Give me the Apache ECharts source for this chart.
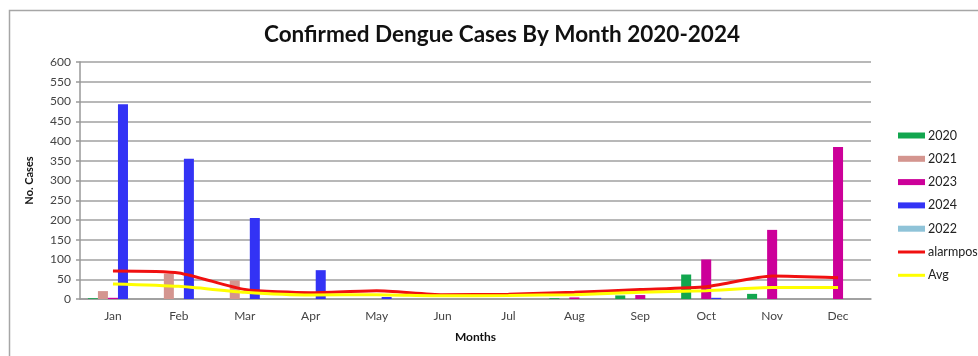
<!DOCTYPE html>
<html>
<head>
<meta charset="utf-8">
<script src="https://cdn.jsdelivr.net/npm/echarts@6/dist/echarts.min.js"></script>
<style>
  html, body { margin: 0; padding: 0; background: #fff; }
  #chart { width: 978px; height: 356px; }
</style>
</head>
<body>
<div id="chart"></div>
<script>
// Monthly confirmed dengue cases, per year, plus alarm threshold and average
const months = ['Jan', 'Feb', 'Mar', 'Apr', 'May', 'Jun', 'Jul', 'Aug', 'Sep', 'Oct', 'Nov', 'Dec'];
const cases2020 = [2, 0, 0, 0, 0, 0, 0, 2, 9, 62, 13, 0];
const cases2021 = [20, 64, 47, 0, 0, 0, 0, 0, 0, 0, 0, 0];
const cases2023 = [3, 0, 0, 0, 0, 0, 0, 4, 10, 100, 175, 385];
const cases2024 = [493, 355, 205, 73, 5, 0, 0, 0, 0, 3, 0, 0];
const cases2022 = [0, 0, 0, 0, 0, 0, 0, 0, 0, 0, 0, 0];
const alarmpos = [71, 66, 24, 16, 21, 11, 12, 17, 24, 31, 58, 54];
const avg = [38, 32, 17, 10, 11, 8, 9, 11, 17, 21, 29, 29];
const yTicks = { min: 0, max: 600, interval: 50 };

const FONT = 'Lato, "Open Sans", sans-serif';

const chart = echarts.init(document.getElementById('chart'), null, { renderer: 'canvas' });

function barSeries(name, data, color) {
  return {
    name, type: 'bar', data,
    barGap: '0%', barCategoryGap: '24%',
    itemStyle: { color },
    emphasis: { disabled: true }
  };
}
function lineSeries(name, data, color) {
  return {
    name, type: 'line', data, smooth: 0.2,
    symbol: 'none',
    lineStyle: { color, width: 3 },
    itemStyle: { color },
    emphasis: { disabled: true }
  };
}

chart.setOption({
  animation: false,
  backgroundColor: '#fff',
  textStyle: { fontFamily: FONT },
  title: {
    text: 'Confirmed Dengue Cases By Month 2020-2024',
    left: 497, top: 18, textAlign: 'center',
    textStyle: { fontFamily: FONT, fontWeight: 'bold', fontSize: 22.5, color: '#111' }
  },
  graphic: [{
    type: 'rect', left: 7, top: 8, silent: true,
    shape: { width: 1100, height: 500 },
    style: { fill: 'none', stroke: '#a6a6a6', lineWidth: 1.5 }
  }],
  legend: {
    orient: 'vertical', left: 893, top: 124,
    itemWidth: 27, itemHeight: 6, itemGap: 10.3,
    textStyle: { fontFamily: FONT, fontSize: 12.5, color: '#222', padding: [0, 0, 0, -2] },
    data: [
      { name: '2020', icon: 'rect' },
      { name: '2021', icon: 'rect' },
      { name: '2023', icon: 'rect' },
      { name: '2024', icon: 'rect' },
      { name: '2022', icon: 'rect' },
      { name: 'alarmpos', icon: 'path://M0,0 L27,0 L27,3 L0,3 Z' },
      { name: 'Avg', icon: 'path://M0,0 L27,0 L27,3 L0,3 Z' }
    ]
  },
  grid: { left: 80, right: 107, top: 62, bottom: 57, containLabel: false },
  xAxis: {
    type: 'category', data: months,
    name: 'Months', nameLocation: 'middle', nameGap: 32,
    nameTextStyle: { fontFamily: FONT, fontWeight: 'bold', fontSize: 12, color: '#111' },
    axisLine: { lineStyle: { color: '#999', width: 1.5 } },
    axisTick: { show: false },
    axisLabel: { fontFamily: FONT, fontSize: 12, color: '#444', margin: 11 },
    splitLine: { show: false }
  },
  yAxis: {
    type: 'value', min: yTicks.min, max: yTicks.max, interval: yTicks.interval,
    name: 'No. Cases', nameLocation: 'middle', nameGap: 45, nameRotate: 90,
    nameTextStyle: { fontFamily: FONT, fontWeight: 'bold', fontSize: 11, color: '#111' },
    axisLine: { show: true, lineStyle: { color: '#999', width: 1.5 } },
    axisTick: { show: true, length: 4, inside: false, lineStyle: { color: '#999', width: 1.5 } },
    axisLabel: { fontFamily: FONT, fontSize: 12, color: '#444', margin: 9 },
    splitLine: { show: true, lineStyle: { color: '#a0a0a0', width: 1.5 } }
  },
  series: [
    barSeries('2020', cases2020, '#12a64e'),
    barSeries('2021', cases2021, '#d4958f'),
    barSeries('2023', cases2023, '#cc0099'),
    barSeries('2024', cases2024, '#3333f5'),
    barSeries('2022', cases2022, '#8fc3d8'),
    lineSeries('alarmpos', alarmpos, '#f01010'),
    lineSeries('Avg', avg, '#ffff00')
  ]
});
</script>
</body>
</html>
